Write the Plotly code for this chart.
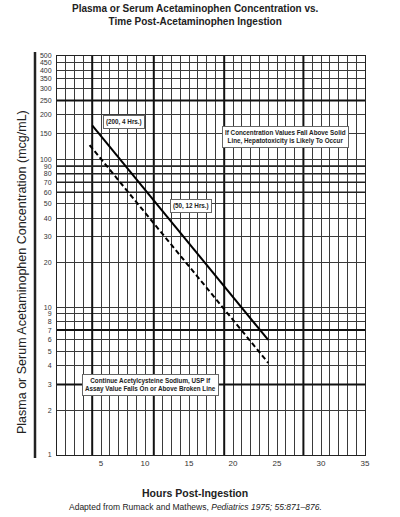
import math
import plotly.graph_objects as go

# ---- data ----
hours_solid = [4, 24]
conc_solid = [170, 6]
hours_dashed = [3.7, 24]
conc_dashed = [125, 4.2]

y_tick_vals = [1, 2, 3, 4, 5, 6, 7, 8, 9, 10, 20, 30, 40, 50, 60, 70, 80, 90,
               100, 150, 200, 250, 300, 350, 400, 450, 500]
x_tick_vals = [5, 10, 15, 20, 25, 30, 35]
x_grid_vals = list(range(0, 36))
x_thick_vals = [4, 11, 19, 28]
y_thick_vals = [250, 7, 3]
y_medium_vals = [60, 70, 80, 90]

W, H = 400, 517
L, R, T, B = 57, 35, 56, 62
PW, PH = W - L - R, H - T - B


def px(x):
    return (x - L) / PW


def py(y):
    return (H - B - y) / PH


GRID = "#3a3a3a"
fig = go.Figure()

for v in x_thick_vals:
    fig.add_trace(go.Scatter(x=[v, v], y=[1, 500], mode="lines",
                             line=dict(color="#111", width=2),
                             hoverinfo="skip", showlegend=False))
for v in y_thick_vals:
    fig.add_trace(go.Scatter(x=[0, 35], y=[v, v], mode="lines",
                             line=dict(color="#111", width=2),
                             hoverinfo="skip", showlegend=False))
for v in y_medium_vals:
    fig.add_trace(go.Scatter(x=[0, 35], y=[v, v], mode="lines",
                             line=dict(color="#222", width=1.5),
                             hoverinfo="skip", showlegend=False))

fig.add_trace(go.Scatter(x=hours_solid, y=conc_solid, mode="lines",
                         line=dict(color="black", width=2),
                         showlegend=False))
fig.add_trace(go.Scatter(x=hours_dashed, y=conc_dashed, mode="lines",
                         line=dict(color="black", width=2, dash="5px,3px"),
                         showlegend=False))

fig.update_layout(
    width=W, height=H,
    margin=dict(l=L, r=R, t=T, b=B),
    paper_bgcolor="white", plot_bgcolor="white",
    font=dict(family="Liberation Sans, Arial, sans-serif", color="#222"),
    showlegend=False,
)

fig.update_xaxes(
    range=[0, 35], tickvals=x_tick_vals,
    ticktext=[str(v) for v in x_tick_vals],
    showgrid=True, gridcolor=GRID, gridwidth=1,
    minor=dict(tickvals=x_grid_vals, showgrid=True, gridcolor=GRID,
               gridwidth=1, ticks=""),
    showline=True, linecolor="#222", linewidth=1, mirror=True,
    zeroline=False, ticks="", tickfont=dict(size=8, color="#333"),
)
fig.update_yaxes(
    type="log", range=[0, math.log10(500)],
    tickvals=y_tick_vals, ticktext=[str(v) for v in y_tick_vals],
    showgrid=True, gridcolor=GRID, gridwidth=1,
    showline=True, linecolor="#222", linewidth=1, mirror=True,
    zeroline=False, ticks="", ticklabelstandoff=3,
    tickfont=dict(size=7, color="#333"),
)

# thick line left of tick labels
fig.add_shape(type="line", xref="paper", yref="paper",
              x0=px(35), x1=px(35), y0=py(458), y1=py(52),
              line=dict(color="#222", width=2.5))

box = dict(bgcolor="white", bordercolor="#666", borderwidth=1, borderpad=2)
annots = [
    dict(text="<b>(200, 4 Hrs.)</b>", x=px(124), y=py(122), **box),
    dict(text="<b>(50, 12 Hrs.)</b>", x=px(191), y=py(206), **box),
    dict(text="<b>If Concentration Values Fall Above Solid<br>Line, Hepatotoxicity is Likely To Occur</b>",
         x=px(285), y=py(137), **box),
    dict(text="<b>Continue Acetylcysteine Sodium, USP If<br>Assay Value Falls On or Above Broken Line</b>",
         x=px(150), y=py(385), **box),
]
for a in annots:
    fig.add_annotation(xref="paper", yref="paper", showarrow=False,
                       xanchor="center", yanchor="middle",
                       font=dict(size=6.3, color="#222"), **a)

fig.add_annotation(xref="paper", yref="paper", showarrow=False,
                   x=px(195), y=py(15), xanchor="center", yanchor="middle",
                   text="<b>Plasma or Serum Acetaminophen Concentration vs.<br>Time Post-Acetaminophen Ingestion</b>",
                   font=dict(size=10, color="#222"))
fig.add_annotation(xref="paper", yref="paper", showarrow=False,
                   x=px(22), y=py(272), xanchor="center", yanchor="middle",
                   textangle=-90,
                   text="Plasma or Serum Acetaminophen Concentration (mcg/mL)",
                   font=dict(size=12.5, color="#222"))
fig.add_annotation(xref="paper", yref="paper", showarrow=False,
                   x=px(195), y=py(493), xanchor="center", yanchor="middle",
                   text="<b>Hours Post-Ingestion</b>",
                   font=dict(size=10.5, color="#222"))
fig.add_annotation(xref="paper", yref="paper", showarrow=False,
                   x=px(195), y=py(507), xanchor="center", yanchor="middle",
                   text="Adapted from Rumack and Mathews, <i>Pediatrics 1975; 55:871–876.</i>",
                   font=dict(size=8.5, color="#222"))

fig.write_html("out.html", config={"displayModeBar": False},
               post_script="document.body.style.margin='0';document.body.style.overflow='hidden';")
